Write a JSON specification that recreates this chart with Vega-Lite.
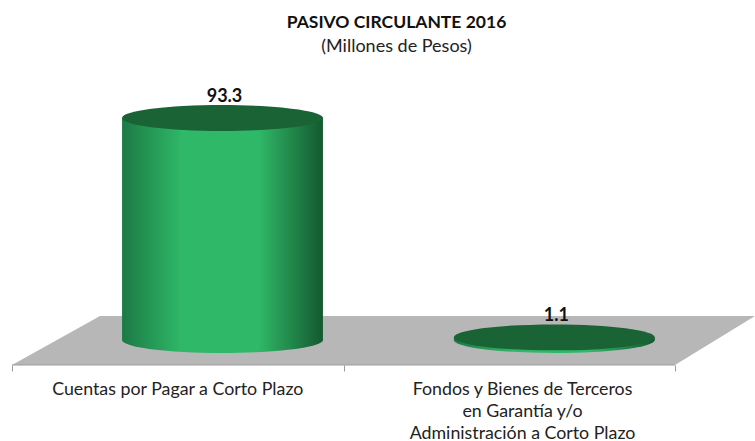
{
  "$schema": "https://vega.github.io/schema/vega-lite/v6.json",
  "width": 755,
  "height": 441,
  "autosize": {"type": "none"},
  "padding": 0,
  "background": "white",
  "view": {"stroke": null},
  "title": {
    "text": "PASIVO CIRCULANTE 2016",
    "subtitle": "(Millones de Pesos)",
    "orient": "top",
    "anchor": "middle",
    "frame": "group",
    "dx": 19,
    "offset": -56,
    "font": "Lato",
    "fontSize": 17.5,
    "fontWeight": "bold",
    "color": "#111111",
    "subtitleFont": "Lato",
    "subtitleFontSize": 18,
    "subtitleColor": "#222222",
    "subtitlePadding": 7
  },
  "datasets": {
    "cuentas": [
      {"cuenta": "Cuentas por Pagar a Corto Plazo", "valor": 93.3, "centro": 0.635, "izq": 0.332, "der": 0.938, "eje": 0.5},
      {"cuenta": "Fondos y Bienes  de Terceros\nen Garantía y/o\nAdministración a Corto Plazo", "valor": 1.1, "centro": 1.636, "izq": 1.333, "der": 1.939, "eje": 1.54}
    ],
    "piso": [
      {"pos": 0, "sup": -10.5, "inf": -10.5},
      {"pos": 0.2655, "sup": 10.1, "inf": -10.5},
      {"pos": 2, "sup": 10.1, "inf": -10.5},
      {"pos": 2.2413, "sup": 10.1, "inf": 10.1}
    ]
  },
  "layer": [
    {
      "data": {"name": "piso"},
      "mark": {"type": "area", "color": "#b7b7b7"},
      "encoding": {
        "x": {"field": "pos", "type": "quantitative", "scale": {"domain": [-0.0362, 2.2413], "nice": false, "zero": false}, "axis": {"values": [0, 1, 2], "title": null, "labels": false, "domain": false, "grid": false, "ticks": true, "tickSize": 6, "tickColor": "#9a9a9a", "offset": -76}},
        "y": {"field": "sup", "type": "quantitative", "scale": {"domain": [-42.44, 142.86], "nice": false, "zero": false}, "axis": null},
        "y2": {"field": "inf"}
      }
    },
    {
      "data": {"values": [{"desde": 0, "hasta": 2, "nivel": -10.5}]},
      "mark": {"type": "rule", "color": "#9a9a9a", "strokeWidth": 1},
      "encoding": {
        "x": {"field": "desde", "type": "quantitative"},
        "x2": {"field": "hasta"},
        "y": {"field": "nivel", "type": "quantitative"}
      }
    },
    {
      "data": {"name": "cuentas"},
      "mark": {
        "type": "point", "filled": true, "opacity": 1, "size": 40401,
        "shape": "M-1,0A1,0.129,0,1,1,1,0A1,0.129,0,1,1,-1,0Z",
        "color": {"gradient": "linear", "x1": 0, "x2": 1, "y1": 0, "y2": 0, "stops": [
          {"offset": 0, "color": "#1c7a45"}, {"offset": 0.3, "color": "#2fb868"}, {"offset": 0.68, "color": "#2fb868"}, {"offset": 1, "color": "#14592f"}
        ]}
      },
      "encoding": {
        "x": {"field": "centro", "type": "quantitative"},
        "y": {"datum": 0, "type": "quantitative"}
      }
    },
    {
      "data": {"name": "cuentas"},
      "mark": {
        "type": "rect",
        "color": {"gradient": "linear", "x1": 0, "x2": 1, "y1": 0, "y2": 0, "stops": [
          {"offset": 0, "color": "#1c7a45"}, {"offset": 0.3, "color": "#2fb868"}, {"offset": 0.68, "color": "#2fb868"}, {"offset": 1, "color": "#14592f"}
        ]}
      },
      "encoding": {
        "x": {"field": "izq", "type": "quantitative"},
        "x2": {"field": "der"},
        "y": {"field": "valor", "type": "quantitative"},
        "y2": {"datum": 0}
      }
    },
    {
      "data": {"name": "cuentas"},
      "mark": {
        "type": "point", "filled": true, "opacity": 1, "size": 40401, "color": "#1a6335",
        "shape": "M-1,0A1,0.129,0,1,1,1,0A1,0.129,0,1,1,-1,0Z"
      },
      "encoding": {
        "x": {"field": "centro", "type": "quantitative"},
        "y": {"field": "valor", "type": "quantitative"}
      }
    },
    {
      "data": {"name": "cuentas"},
      "mark": {"type": "text", "font": "Lato", "fontSize": 18, "fontWeight": "bold", "color": "#111111", "dy": -21, "dx": 2, "baseline": "middle"},
      "encoding": {
        "x": {"field": "centro", "type": "quantitative"},
        "y": {"field": "valor", "type": "quantitative"},
        "text": {"field": "valor", "type": "quantitative", "format": ".1f"}
      }
    },
    {
      "data": {"name": "cuentas"},
      "mark": {"type": "text", "font": "Lato", "fontSize": 17.8, "color": "#222222", "baseline": "top", "align": "center", "lineBreak": "\n", "lineHeight": 22},
      "encoding": {
        "x": {"field": "eje", "type": "quantitative"},
        "y": {"datum": -17.2, "type": "quantitative"},
        "text": {"field": "cuenta", "type": "nominal"}
      }
    }
  ]
}
